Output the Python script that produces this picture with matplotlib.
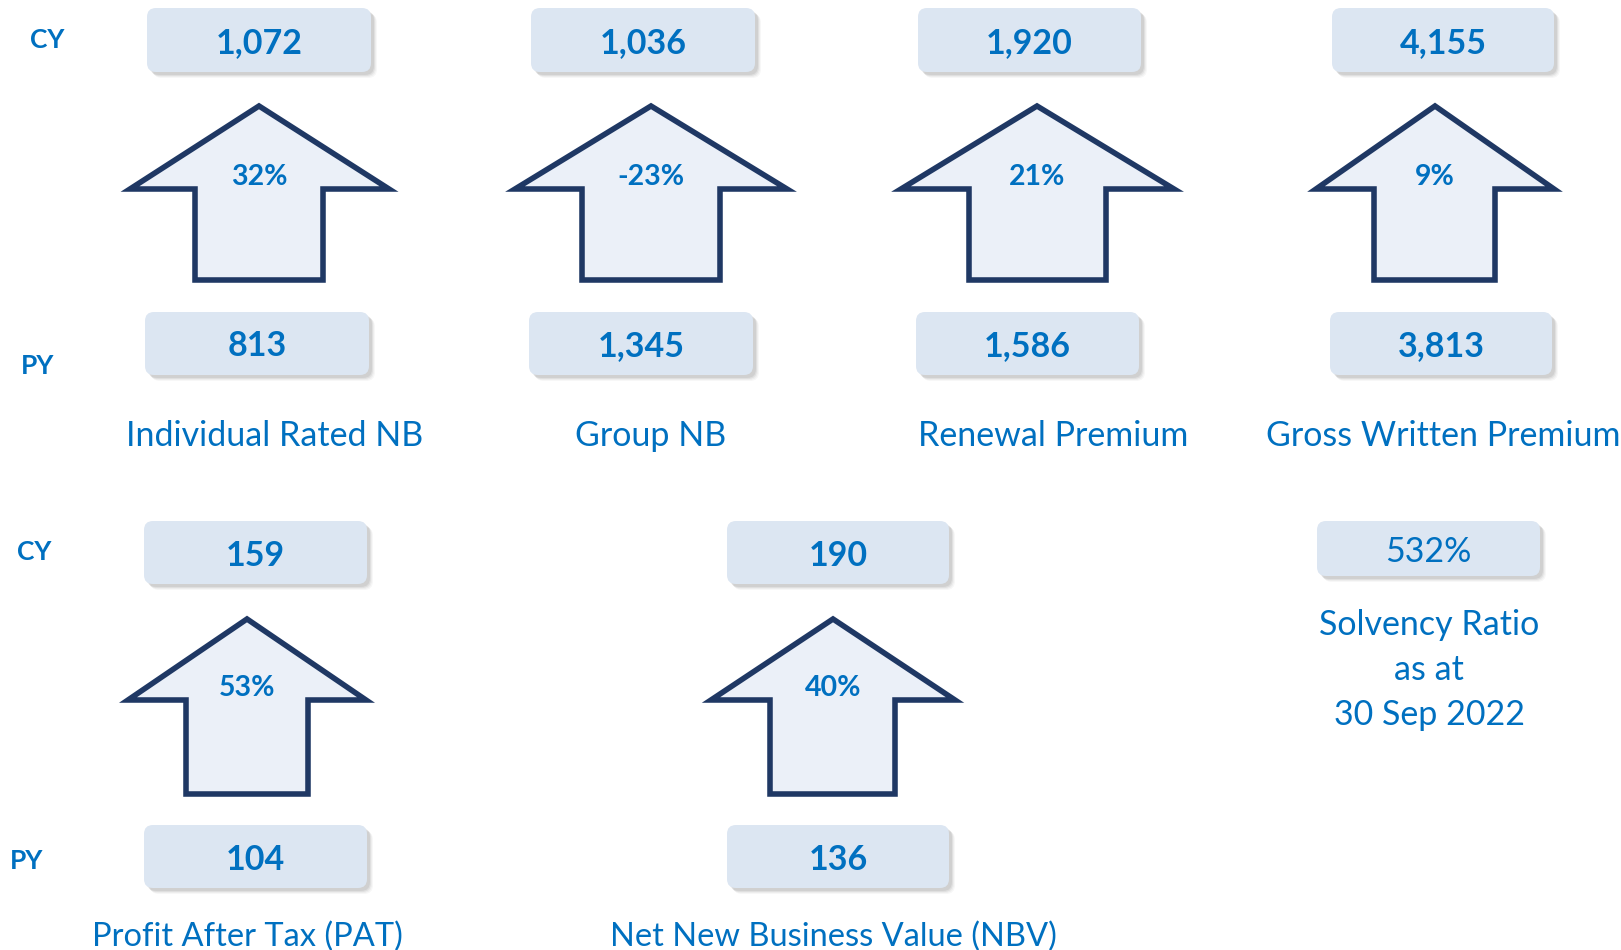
import matplotlib
matplotlib.use("Agg")
import matplotlib.pyplot as plt
from matplotlib.patches import FancyBboxPatch, Polygon

# ---------------- data ----------------
top_metrics = ["Individual Rated NB", "Group NB", "Renewal Premium", "Gross Written Premium"]
top_cy = ["1,072", "1,036", "1,920", "4,155"]
top_py = ["813", "1,345", "1,586", "3,813"]
top_change = ["32%", "-23%", "21%", "9%"]

bottom_metrics = ["Profit After Tax (PAT)", "Net New Business Value (NBV)"]
bottom_cy = ["159", "190"]
bottom_py = ["104", "136"]
bottom_change = ["53%", "40%"]

solvency_value = "532%"
solvency_label = "Solvency Ratio\nas at\n30 Sep 2022"

# ---------------- style ----------------
BLUE = "#0070C0"
BOX = "#DCE6F2"
ARROW_FILL = "#EBF0F8"
ARROW_EDGE = "#1F3864"
FONT = ["Lato", "DejaVu Sans"]

W, H = 1621, 950
fig = plt.figure(figsize=(W / 100, H / 100), dpi=100)
ax = fig.add_axes([0, 0, 1, 1])
ax.set_xlim(0, W)
ax.set_ylim(H, 0)
ax.axis("off")


def box(xl, xr, yt, yb, text, bold=True, size=24.5):
    for off, a in [(6, 0.06), (5, 0.08), (4, 0.12), (3, 0.15)]:
        ax.add_patch(FancyBboxPatch((xl + off, yt + off), xr - xl, yb - yt,
                                    boxstyle="round,pad=0,rounding_size=9",
                                    fc="#7f7f7f", ec="none", alpha=a, zorder=1))
    ax.add_patch(FancyBboxPatch((xl, yt), xr - xl, yb - yt,
                                boxstyle="round,pad=0,rounding_size=9",
                                fc=BOX, ec="none", zorder=2))
    ax.text((xl + xr) / 2, (yt + yb) / 2 + 3, text, ha="center", va="center",
            color=BLUE, fontsize=size, fontweight="bold" if bold else "normal",
            family=FONT, zorder=3)


def arrow(cx, tip, hl, hr, base, sl, sr, bottom, label, label_y):
    pts = [(cx, tip), (hr, base), (sr, base), (sr, bottom), (sl, bottom),
           (sl, base), (hl, base)]
    ax.add_patch(Polygon(pts, closed=True, fc=ARROW_FILL, ec=ARROW_EDGE,
                         lw=4.0, joinstyle="miter", zorder=2))
    ax.text(cx, label_y, label, ha="center", va="center", color=BLUE,
            fontsize=20.5, fontweight="bold", family=FONT, zorder=3)


# top row layout
top_box = [(147, 371), (531, 755), (918, 1141), (1332, 1554)]
top_arrow = [
    (259, 130, 389, 195, 323),
    (651, 515, 787, 582, 720),
    (1037, 901, 1174, 969, 1106),
    (1435, 1316, 1554, 1374, 1495),
]
top_label_x = [275, 651, 1053, 1443]

for i in range(4):
    xl, xr = top_box[i]
    box(xl, xr, 8, 72, top_cy[i])
    box(xl - 2, xr - 2, 312, 375, top_py[i])
    cx, hl, hr, sl, sr = top_arrow[i]
    arrow(cx, 106, hl, hr, 189, sl, sr, 280, top_change[i], 177)
    ax.text(top_label_x[i], 436, top_metrics[i], ha="center", va="center",
            color=BLUE, fontsize=24.5, family=FONT)

ax.text(47, 40, "CY", ha="center", va="center", color=BLUE, fontsize=19,
        fontweight="bold", family=FONT)
ax.text(38, 366, "PY", ha="center", va="center", color=BLUE, fontsize=19,
        fontweight="bold", family=FONT)

# bottom row layout
bot_box = [(144, 367), (727, 949)]
bot_arrow = [
    (247, 128, 366, 186, 308),
    (833, 711, 955, 770, 895),
]
for i in range(2):
    xl, xr = bot_box[i]
    box(xl, xr, 521, 584, bottom_cy[i])
    box(xl, xr, 825, 888, bottom_py[i])
    cx, hl, hr, sl, sr = bot_arrow[i]
    arrow(cx, 619, hl, hr, 700, sl, sr, 794, bottom_change[i], 688)
    ax.text(cx, 937, bottom_metrics[i], ha="center", va="center",
            color=BLUE, fontsize=23.5, family=FONT)

ax.text(34, 552, "CY", ha="center", va="center", color=BLUE, fontsize=19,
        fontweight="bold", family=FONT)
ax.text(27, 861, "PY", ha="center", va="center", color=BLUE, fontsize=19,
        fontweight="bold", family=FONT)

box(1317, 1540, 521, 576, solvency_value, bold=False, size=24.5)
for j, line in enumerate(solvency_label.split("\n")):
    ax.text(1429, 625 + 45 * j, line, ha="center", va="center",
            color=BLUE, fontsize=24.5, family=FONT)

fig.savefig("out.png", dpi=100)
